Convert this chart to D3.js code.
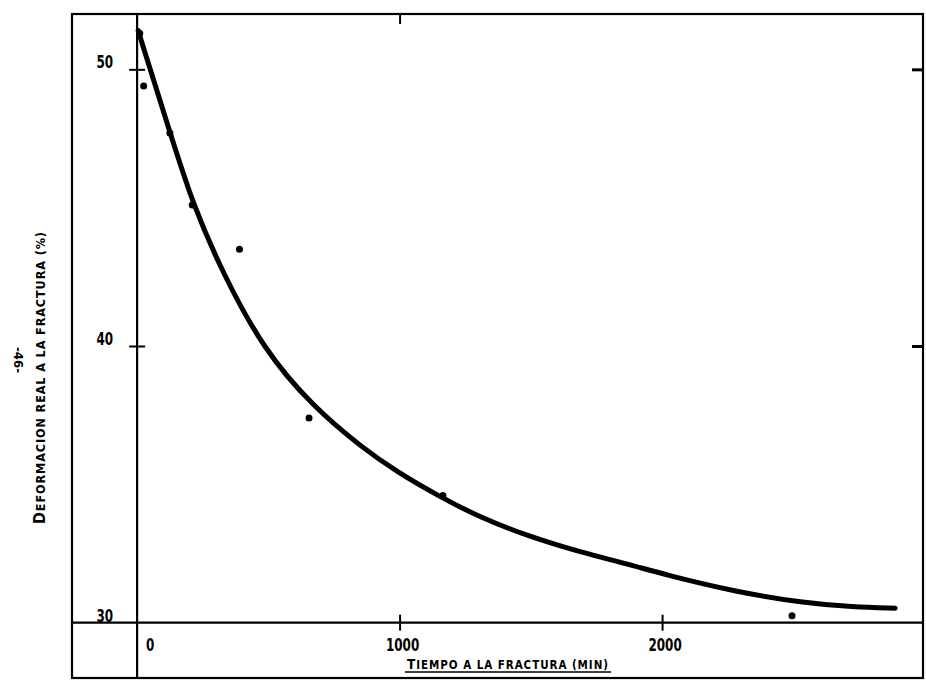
<!DOCTYPE html>
<html>
<head>
<meta charset="utf-8">
<script src="https://cdn.jsdelivr.net/npm/d3@7"></script>
<style>
  body { margin: 0; background: #fff; }
  svg { display: block; }
  text { font-family: "DejaVu Sans Condensed", "DejaVu Sans", sans-serif; font-stretch: condensed; font-weight: bold; fill: #000; }
</style>
</head>
<body>
<svg id="chart" width="926" height="683"></svg>
<script>
// Tick values
const xTickValues = [0, 1000, 2000];
const yTickValues = [30, 40, 50];
const xTopTicks = [1000];
const yRightTicks = [40, 50];

// Measured points: time to fracture (min) vs true strain at fracture (%)
const obsTime   = [10, 25, 125, 210, 390, 655, 1165, 2495];
const obsStrain = [51.3, 49.4, 47.7, 45.1, 43.5, 37.4, 34.6, 30.25];

// Hand-fitted trend curve
const fitTime   = [4, 126, 213, 328, 480, 670, 861, 990, 1154, 1307, 1497, 1688, 1878, 2004, 2286, 2537, 2728, 2888];
const fitStrain = [51.4, 47.7, 45.1, 42.6, 39.9, 37.8, 36.3, 35.45, 34.55, 33.8, 33.1, 32.55, 32.1, 31.75, 31.1, 30.72, 30.56, 30.52];

const xLabel = ["T", "IEMPO A LA FRACTURA (MIN)"];
const yLabel = ["D", "EFORMACION REAL A LA FRACTURA  (%)"];
const pageNumber = "-46-";

const svg = d3.select("#chart");

// Frame spans the full plotted range of both scales
const x = d3.scaleLinear().domain([-248, 2994]).range([72, 923]);
const y = d3.scaleLinear().domain([28, 52]).range([678, 14]);
const [x0, x1] = x.range();
const [yb, yt] = y.range();

// Outer frame
svg.append("rect")
  .attr("x", x0).attr("y", yt)
  .attr("width", x1 - x0).attr("height", yb - yt)
  .attr("fill", "none").attr("stroke", "#000").attr("stroke-width", 2.2);

// Axes through the origin (t = 0, strain = 30)
svg.append("line")
  .attr("x1", x(0)).attr("x2", x(0)).attr("y1", yt).attr("y2", yb)
  .attr("stroke", "#000").attr("stroke-width", 2.2);
svg.append("line")
  .attr("x1", x0).attr("x2", x1).attr("y1", y(30)).attr("y2", y(30))
  .attr("stroke", "#000").attr("stroke-width", 2.2);

// Tick marks crossing the axes
function styleTicks(g) {
  g.select(".domain").remove();
  g.selectAll(".tick line").attr("stroke", "#000").attr("stroke-width", 2);
}
svg.append("g")
  .attr("transform", `translate(0,${y(30) - 8})`)
  .call(d3.axisBottom(x).tickValues(xTickValues.filter(v => v > 0)).tickSize(16).tickFormat(""))
  .call(styleTicks);
svg.append("g")
  .attr("transform", `translate(${x(0) + 8},0)`)
  .call(d3.axisLeft(y).tickValues(yTickValues.filter(v => v > 30)).tickSize(16).tickFormat(""))
  .call(styleTicks);
// Short inward ticks on the top and right edges
svg.append("g")
  .attr("transform", `translate(0,${yt})`)
  .call(d3.axisBottom(x).tickValues(xTopTicks).tickSize(10).tickFormat(""))
  .call(styleTicks);
svg.append("g")
  .attr("transform", `translate(${x1},0)`)
  .call(d3.axisLeft(y).tickValues(yRightTicks).tickSize(11).tickFormat(""))
  .call(g => { styleTicks(g); g.selectAll(".tick line").attr("stroke-width", 3); });

// Tick labels: tall, narrow plotter digits
svg.append("g").selectAll("text")
  .data(xTickValues).join("text")
  .attr("transform", d => `translate(${d === 0 ? x(d) + 9 : x(d) + 3},${y(30) + 28}) scale(0.74,1)`)
  .attr("text-anchor", d => d === 0 ? "start" : "middle")
  .attr("font-size", 18)
  .text(d => d);
svg.append("g").selectAll("text")
  .data(yTickValues).join("text")
  .attr("transform", d => `translate(${x(0) - 24},${y(d) - 1}) scale(0.74,1)`)
  .attr("text-anchor", "end")
  .attr("font-size", 18)
  .text(d => d);

// Axis titles in small capitals
const xt = svg.append("text")
  .attr("x", 407).attr("y", 669)
  .attr("textLength", 201).attr("lengthAdjust", "spacing");
xt.append("tspan").attr("font-size", 13.5).text(xLabel[0]);
xt.append("tspan").attr("font-size", 11.5).text(xLabel[1]);
svg.append("line")
  .attr("x1", 405).attr("x2", 611).attr("y1", 672).attr("y2", 672)
  .attr("stroke", "#000").attr("stroke-width", 1.6);

const yt2 = svg.append("text")
  .attr("transform", "translate(45,378) rotate(-90)")
  .attr("text-anchor", "middle")
  .attr("textLength", 292).attr("lengthAdjust", "spacing");
yt2.append("tspan").attr("font-size", 16).text(yLabel[0]);
yt2.append("tspan").attr("font-size", 12.5).text(yLabel[1]);

svg.append("text")
  .attr("transform", "translate(14,360) rotate(90)")
  .attr("text-anchor", "middle")
  .attr("font-size", 13)
  .attr("font-weight", "normal")
  .text(pageNumber);

// Fitted curve
const fit = fitTime.map((t, i) => [t, fitStrain[i]]);
svg.append("path")
  .datum(fit)
  .attr("fill", "none")
  .attr("stroke", "#000")
  .attr("stroke-width", 5)
  .attr("stroke-linecap", "round")
  .attr("stroke-linejoin", "round")
  .attr("d", d3.line().x(d => x(d[0])).y(d => y(d[1])).curve(d3.curveBasis));

// Measured points
svg.append("g").selectAll("circle")
  .data(obsTime.map((t, i) => [t, obsStrain[i]]))
  .join("circle")
  .attr("cx", d => x(d[0]))
  .attr("cy", d => y(d[1]))
  .attr("r", 3.5)
  .attr("fill", "#000");
</script>
</body>
</html>
